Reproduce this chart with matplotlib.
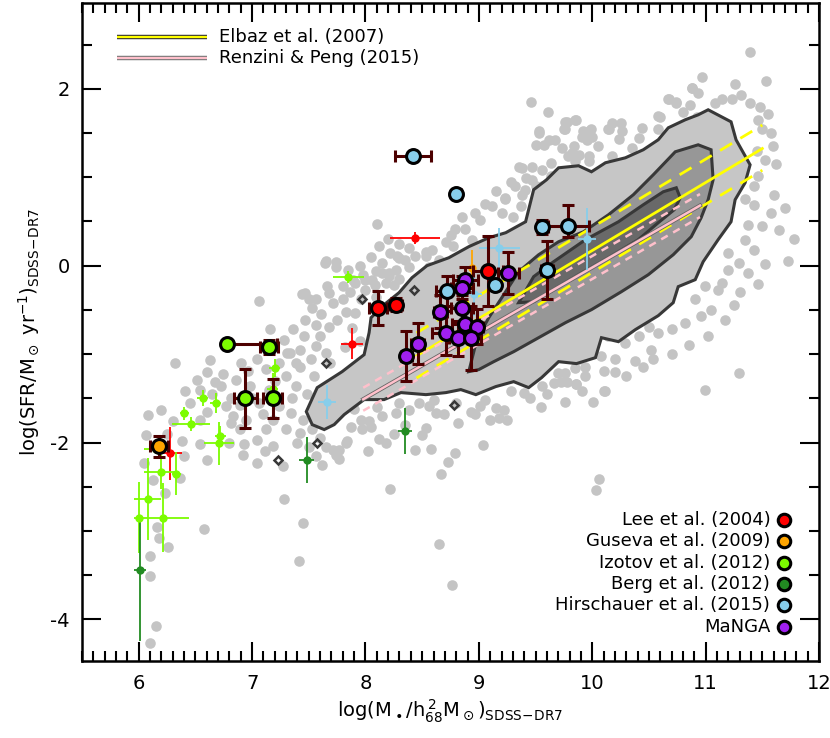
import numpy as np
import matplotlib
matplotlib.use("Agg")
import matplotlib.pyplot as plt
from matplotlib.patches import Polygon

plt.rcParams["font.family"] = ["DejaVu Sans"]
plt.rcParams["mathtext.fontset"] = "dejavusans"
plt.rcParams["axes.unicode_minus"] = False

# --- SDSS-DR7 galaxies outside the outer density contour (log M*, log SFR)
sdss_pts = np.array([
    # low-mass tail
    (6.32, -1.10), (6.625, -1.07), (6.51, -1.29), (6.67, -1.31), (6.74, -1.23), (6.73, -1.36),
    (6.41, -1.42), (6.20, -1.63), (6.08, -1.69), (6.30, -1.76), (6.54, -1.74), (6.815, -1.495),
    (6.77, -1.59), (6.83, -1.70), (6.89, -1.57), (6.06, -1.91), (6.05, -2.23), (6.13, -2.42),
    (6.23, -2.57), (6.36, -2.40), (6.54, -2.02), (6.38, -1.98), (6.93, -2.02), (6.92, -2.14),
    (7.04, -2.23), (7.11, -2.10), (7.27, -2.27), (7.28, -2.64), (7.45, -2.91), (7.41, -3.34),
    (6.575, -2.98), (6.16, -2.96), (6.18, -3.08), (6.26, -3.18), (6.10, -3.28), (6.10, -3.51),
    (6.15, -4.07), (6.10, -4.27),
    (7.04, -1.06), (7.12, -1.17), (7.24, -1.10), (7.33, -0.99), (7.42, -1.14), (7.30, -1.25),
    (7.39, -1.36), (6.98, -1.36), (7.06, -1.55), (7.24, -1.59), (7.34, -1.66), (7.45, -1.74),
    (7.18, -1.74), (7.30, -1.85), (7.42, -1.89), (7.53, -1.85), (7.18, -2.04), (7.12, -1.85),
    (7.04, -1.97), (7.56, -2.15), (7.71, -2.08), (7.83, -2.00), (7.77, -2.19), (6.89, -1.85),
    (6.815, -1.78), (6.96, -1.19), (6.86, -1.29), (6.54, -1.40),
    (7.60, -1.95), (7.50, -2.05), (7.40, -2.00), (7.65, -2.05), (7.62, -2.25),
    (6.45, -1.55), (6.60, -1.65), (6.25, -1.90), (6.40, -2.15), (6.60, -2.20), (6.80, -2.00),
    (6.95, -1.75), (7.00, -1.50), (6.65, -1.45), (6.90, -1.10), (6.60, -1.20), (7.15, -1.40),
    (7.20, -1.30), (7.10, -1.68), (7.35, -1.50), (7.48, -1.45), (7.55, -1.25),
    # left band above the contour
    (8.10, 0.47), (7.64, 0.03), (7.74, 0.04), (7.06, -0.40), (7.44, -0.32), (7.50, -0.38),
    (7.66, -0.23), (7.68, -0.31), (7.53, -0.48), (7.61, -0.55), (7.71, -0.42), (7.80, -0.38),
    (7.83, -0.52), (7.75, -0.61), (7.68, -0.69), (7.56, -0.67), (7.47, -0.61), (7.36, -0.72),
    (7.16, -0.72), (7.28, -0.84), (7.46, -0.80), (7.56, -0.91), (7.42, -0.95), (7.31, -0.99),
    (7.39, -1.10), (7.52, -1.06), (7.65, -0.99), (7.69, -1.10), (7.91, -0.20), (8.00, -0.27),
    (8.06, -0.16), (8.09, -0.35), (8.15, -0.08), (8.21, -0.12), (8.27, -0.045), (8.28, 0.11),
    (8.35, 0.07), (8.44, 0.11), (8.53, 0.16), (8.56, -0.01), (7.96, -0.38), (7.91, -0.53),
    (7.95, 0.00), (8.05, 0.10), (8.12, 0.22), (8.20, 0.30), (8.30, 0.25), (8.38, 0.20),
    (7.85, -0.05), (7.98, -0.10), (8.08, -0.22), (8.18, -0.20), (8.30, -0.15), (8.25, -0.22),
    (7.88, -0.70), (7.95, -0.85), (7.82, -0.92), (7.60, -0.80), (7.86, -0.30),
    # upper edge
    (9.23, 0.75), (8.97, 0.60), (9.01, 0.52), (9.12, 0.67), (8.79, 0.41), (8.75, 0.35),
    (8.88, 0.41), (8.71, 0.27), (8.77, 0.22), (8.94, 0.29), (8.59, 0.18), (8.53, 0.11),
    (8.65, 0.07), (7.65, 0.05), (7.74, -0.01), (7.47, -0.31), (7.56, -0.38), (8.15, 0.03),
    (8.22, 0.14), (8.30, 0.09), (8.38, -0.01), (8.09, -0.06), (8.00, -0.16), (8.21, -0.08),
    (7.89, -0.16), (7.80, -0.23), (9.47, 0.97), (9.32, 0.90), (9.41, 0.86), (9.56, 0.90),
    (9.64, 1.01), (9.82, 1.27), (9.76, 1.54), (9.91, 1.46), (9.99, 1.54), (10.05, 1.35),
    (10.17, 1.61), (9.53, 1.50), (9.62, 1.42), (9.35, 1.12),
    (9.05, 0.70), (9.15, 0.85), (9.28, 0.95), (9.20, 0.60), (9.30, 0.55), (8.85, 0.55),
    (9.46, 1.85), (9.61, 1.74), (9.78, 1.62), (9.86, 1.65), (9.53, 1.52), (9.75, 1.54),
    (9.92, 1.52), (9.95, 1.42), (9.67, 1.42), (9.50, 1.37), (9.57, 1.37), (9.73, 1.33),
    (9.84, 1.35), (9.88, 1.25), (9.79, 1.24), (9.97, 1.24), (10.15, 1.55), (10.25, 1.61),
    (10.24, 1.43), (10.41, 1.44), (10.44, 1.56), (10.58, 1.55), (10.60, 1.68), (10.68, 1.88),
    (10.74, 1.85), (10.80, 1.74), (10.86, 1.82), (10.88, 2.01), (10.92, 1.68), (10.35, 1.33),
    (10.17, 1.24), (9.47, 1.12), (9.56, 1.08), (9.64, 1.16), (9.70, 1.05), (9.38, 1.10),
    (9.42, 0.99), (9.38, 0.80), (9.23, 0.77), (9.37, 0.67), (9.50, 0.90), (9.85, 1.18),
    (9.97, 1.18),
    # high-mass end
    (11.39, 2.42), (10.97, 2.13), (10.88, 2.01), (10.93, 1.95), (11.26, 2.06), (11.53, 2.09),
    (11.31, 1.93), (11.14, 1.88), (11.23, 1.88), (11.08, 1.84), (11.39, 1.84), (11.48, 1.80),
    (11.55, 1.71), (11.46, 1.65), (11.58, 1.50), (11.59, 1.35), (11.52, 1.20), (11.46, 1.01),
    (11.43, 0.90), (11.58, 0.60), (11.43, 0.69), (11.37, 0.46), (11.35, 0.29), (11.43, 0.18),
    (11.37, -0.08), (11.46, -0.21), (11.29, 0.03), (11.20, 0.14), (11.14, -0.20), (11.11, -0.27),
    (10.99, -0.23), (10.96, -0.57), (11.17, -0.61), (11.02, -0.80), (10.91, -0.38), (10.82, -0.65),
    (10.70, -0.72), (10.58, -0.76), (10.50, -0.69), (10.52, -0.95), (10.38, -1.08), (10.08, -1.02),
    (9.94, -1.14), (10.67, 1.88), (10.74, 1.84), (10.58, 1.69), (10.26, 1.52), (10.14, 1.54),
    (9.97, 1.52), (9.85, 1.65), (9.76, 1.63), (10.00, 1.46), (9.995, -0.87), (10.14, -0.80),
    (10.29, -0.87), (10.41, -0.80), (10.20, -1.06), (9.88, -1.06),
    (11.70, 0.65), (11.78, 0.30), (11.73, 0.05), (11.65, 0.40),
    (11.35, 0.75), (11.50, 0.45), (11.60, 0.80), (11.30, -0.30), (11.25, -0.45), (11.05, -0.50),
    (11.20, -0.05), (11.52, 0.02), (11.62, 1.15), (11.45, 1.30), (11.50, 1.55),
    # below the contour
    (9.70, -1.21), (9.76, -1.21), (9.85, -1.16), (9.94, -1.25), (9.78, -1.31), (9.72, -1.31),
    (9.86, -1.34), (9.91, -1.42), (9.76, -1.54), (10.01, -1.54), (10.10, -1.42), (10.10, -1.19),
    (10.54, -1.06), (10.99, -1.40), (11.29, -1.21), (10.06, -2.41), (10.03, -2.54),
    (9.45, -1.50), (9.60, -1.45), (9.55, -1.60), (10.20, -1.20), (10.30, -1.25), (10.45, -1.15),
    (10.70, -1.00), (10.85, -0.90),
    (7.74, -2.14), (7.77, -2.08), (7.84, -1.98), (8.02, -2.10), (8.12, -1.96), (8.18, -2.00),
    (7.97, -1.85), (7.87, -1.82), (8.05, -1.82), (8.22, -2.52), (8.44, -2.08), (8.58, -2.07),
    (8.53, -1.83), (8.50, -1.91), (8.79, -2.12), (8.73, -2.22), (8.67, -2.35), (9.04, -2.03),
    (8.65, -3.15), (8.76, -3.61), (8.69, -1.68), (8.82, -1.78), (8.97, -1.68), (9.10, -1.74),
    (9.18, -1.72), (9.25, -1.74), (9.15, -1.61), (9.22, -1.63), (9.01, -1.59), (8.93, -1.65),
    (9.28, -1.42), (9.40, -1.44), (9.56, -1.36), (9.66, -1.33), (9.86, -1.34), (10.11, -1.42),
    (8.56, -1.59), (8.62, -1.66), (8.38, -1.63), (8.47, -1.55), (8.27, -1.66), (8.15, -1.70),
    (8.03, -1.76), (7.96, -1.74),
    (7.90, -1.62), (8.10, -1.60), (8.30, -1.55), (8.60, -1.52), (8.80, -1.55), (9.05, -1.52),
    (8.35, -1.80), (8.25, -1.90),
])

# --- density contours of the SDSS sample (outer, middle, inner)
contour_outer = np.array([
    (7.478, -1.650), (7.574, -1.379), (7.794, -1.198), (7.988, -1.006), (8.032, -0.757),
    (8.049, -0.588), (8.164, -0.441), (8.296, -0.305), (8.410, -0.136), (8.542, 0.0),
    (8.735, 0.090), (8.911, 0.215), (9.087, 0.316), (9.237, 0.373), (9.412, 0.497),
    (9.483, 0.859), (9.597, 0.972), (9.703, 1.107), (9.879, 1.130), (9.993, 1.062),
    (10.116, 1.164), (10.292, 1.220), (10.450, 1.311), (10.582, 1.424), (10.670, 1.559),
    (10.820, 1.650), (10.934, 1.706), (11.022, 1.763), (11.224, 1.627), (11.268, 1.424),
    (11.392, 1.141), (11.348, 0.938), (11.260, 0.746), (11.224, 0.497), (11.110, 0.294),
    (10.978, 0.045), (10.908, -0.158), (10.758, -0.237), (10.714, -0.418), (10.582, -0.565),
    (10.380, -0.723), (10.231, -0.859), (10.081, -0.814), (10.028, -1.040), (9.861, -1.107),
    (9.703, -1.085), (9.553, -1.266), (9.439, -1.379), (9.307, -1.311), (9.149, -1.367),
    (8.973, -1.458), (8.841, -1.401), (8.709, -1.435), (8.533, -1.458), (8.313, -1.435),
    (8.164, -1.514), (7.988, -1.514), (7.812, -1.684), (7.724, -1.797), (7.636, -1.853),
    (7.530, -1.797),
])
contour_mid = np.array([
    (8.911, -1.198), (8.982, -0.836), (9.087, -0.588), (9.219, -0.328), (9.351, -0.068),
    (9.527, 0.124), (9.703, 0.271), (9.923, 0.384), (10.143, 0.576), (10.362, 0.802),
    (10.538, 1.028), (10.732, 1.288), (10.934, 1.367), (11.048, 1.311), (11.066, 0.972),
    (11.022, 0.746), (10.960, 0.542), (10.873, 0.328), (10.714, 0.124), (10.494, -0.102),
    (10.257, -0.294), (9.993, -0.497), (9.764, -0.644), (9.527, -0.814), (9.307, -0.972),
    (9.131, -1.085), (8.999, -1.175),
])
contour_inner = np.array([
    (9.351, -0.418), (9.483, -0.124), (9.659, 0.045), (9.940, 0.294), (10.231, 0.497),
    (10.450, 0.689), (10.626, 0.836), (10.741, 0.881), (10.776, 0.768), (10.723, 0.633),
    (10.582, 0.486), (10.406, 0.294), (10.143, 0.090), (9.879, -0.102), (9.659, -0.271),
    (9.483, -0.407),
])
# small isolated contour islands
island_x = [7.65, 7.57, 7.23, 8.78, 8.43, 7.97]
island_y = [-1.10, -2.00, -2.20, -1.57, -0.27, -0.38]

# --- main-sequence relations (end points of the plotted segments)
elbaz_x = [8.45, 11.5]
elbaz_mid = [-1.02, 1.325]
elbaz_hi = [-0.76, 1.59]
elbaz_lo = [-1.27, 1.08]
rp_x = [7.98, 10.95]
rp_mid = [-1.51, 0.68]
rp_hi = [-1.38, 0.81]
rp_lo = [-1.64, 0.55]

# --- literature samples: small symbols = full sample, big = selected objects
lee_x = [8.44, 7.88, 6.28]
lee_y = [0.31, -0.88, -2.12]
lee_xerr = [0.22, 0.10, 0.10]
lee_yerr = [0.07, 0.18, 0.30]
lee_sel_x = [8.11, 8.27, 9.08]
lee_sel_y = [-0.48, -0.44, -0.06]
lee_sel_xerr = [0.08, 0.05, 0.13]
lee_sel_yerr = [0.19, 0.07, 0.40]

gus_x = [8.94]
gus_y = [-0.03]
gus_xerr = [0.0]
gus_yerr = [0.21]
gus_sel_x = [6.18]
gus_sel_y = [-2.04]
gus_sel_xerr = [0.08]
gus_sel_yerr = [0.12]

izo_x = [6.565, 6.68, 6.40, 6.46, 6.72, 6.71, 6.20, 6.33, 6.08, 6.21, 6.00, 6.15, 7.20, 7.18, 7.85]
izo_y = [-1.495, -1.55, -1.67, -1.79, -1.93, -2.01, -2.33, -2.35, -2.64, -2.85, -2.85, -2.07,
         -1.16, -1.39, -0.13]
izo_xerr = [0.05, 0.05, 0.04, 0.17, 0.05, 0.13, 0.15, 0.04, 0.12, 0.23, 0.04, 0.10, 0.05, 0.05, 0.14]
izo_yerr = [0.09, 0.11, 0.07, 0.08, 0.12, 0.24, 0.19, 0.24, 0.46, 0.39, 0.40, 0.05, 0.10, 0.18, 0.07]
izo_sel_x = [6.78, 7.15, 6.94, 7.18]
izo_sel_y = [-0.88, -0.92, -1.50, -1.50]
izo_sel_xerr_lo = [0.0, 0.08, 0.10, 0.08]
izo_sel_xerr_hi = [0.44, 0.08, 0.10, 0.08]
izo_sel_yerr = [0.0, 0.08, 0.33, 0.22]

berg_x = [7.48, 6.01, 8.35]
berg_y = [-2.20, -3.44, -1.87]
berg_xerr = [0.07, 0.05, 0.06]
berg_yerr_lo = [0.26, 0.80, 0.26]
berg_yerr_hi = [0.26, 0.57, 0.26]

hir_x = [9.18, 9.95, 8.96, 7.66]
hir_y = [0.20, 0.30, -0.32, -1.54]
hir_xerr = [0.18, 0.08, 0.07, 0.08]
hir_yerr = [0.23, 0.35, 0.25, 0.19]
hir_sel_x = [8.42, 8.80, 9.56, 9.79, 9.60, 9.14, 8.72]
hir_sel_y = [1.24, 0.81, 0.44, 0.45, -0.05, -0.22, -0.29]
hir_sel_xerr = [0.16, 0.04, 0.05, 0.18, 0.05, 0.04, 0.10]
hir_sel_yerr_lo = [0.0, 0.05, 0.08, 0.12, 0.33, 0.05, 0.17]
hir_sel_yerr_hi = [0.0, 0.05, 0.08, 0.24, 0.33, 0.05, 0.17]

manga_x = [9.26, 8.88, 8.85, 8.66, 8.85, 8.88, 8.98, 8.71, 8.82, 8.93, 8.46, 8.36]
manga_y = [-0.08, -0.16, -0.25, -0.52, -0.48, -0.66, -0.69, -0.76, -0.82, -0.82, -0.88, -1.02]
manga_xerr = [0.09, 0.11, 0.10, 0.06, 0.10, 0.12, 0.06, 0.12, 0.08, 0.09, 0.06, 0.05]
manga_yerr = [0.24, 0.14, 0.13, 0.19, 0.15, 0.15, 0.20, 0.25, 0.20, 0.36, 0.23, 0.28]

legend_labels = ["Lee et al. (2004)", "Guseva et al. (2009)", "Izotov et al. (2012)",
                 "Berg et al. (2012)", "Hirschauer et al. (2015)", "MaNGA"]
C_LEE, C_GUS, C_IZO, C_BERG, C_HIR, C_MANGA = "#ff0000", "#ffa500", "#7cfc00", "#228b22", "#87ceeb", "#a020f0"
legend_colors = [C_LEE, C_GUS, C_IZO, C_BERG, C_HIR, C_MANGA]
BROWN = "#4d0000"
EDGE = "#383838"

fig = plt.figure(figsize=(8.3, 7.38), dpi=100)
ax = fig.add_axes([0.0988, 0.1043, 0.8880, 0.8916])

# SDSS background
ax.scatter(sdss_pts[:, 0], sdss_pts[:, 1], s=58, color="#c4c4c4", lw=0, zorder=1)
for poly, fc in [(contour_outer, "#c6c6c6"), (contour_mid, "#979797"), (contour_inner, "#696969")]:
    ax.add_patch(Polygon(poly, closed=True, facecolor=fc, edgecolor=EDGE, lw=2.2, zorder=2))
ax.plot(island_x, island_y, ls="none", marker="D", ms=4.5, mfc="none", mec=EDGE, mew=1.8, zorder=2)

# relations
ax.plot(elbaz_x, elbaz_mid, color="yellow", lw=2.0, zorder=3)
for yy in (elbaz_hi, elbaz_lo):
    ax.plot(elbaz_x, yy, color="yellow", lw=2.0, dashes=(5, 3.5), zorder=3)
ax.plot(rp_x, rp_mid, color="#666666", lw=3.0, zorder=3)
ax.plot(rp_x, rp_mid, color="pink", lw=1.8, zorder=3)
for yy in (rp_hi, rp_lo):
    ax.plot(rp_x, yy, color="pink", lw=1.8, dashes=(3, 2.5), zorder=3)


def small(x, y, xerr, yerr, c):
    ax.errorbar(x, y, xerr=xerr, yerr=yerr, fmt="o", ms=6, mfc=c, mec=c, mew=0, ecolor=c,
                elinewidth=1.3, capsize=4, capthick=1.3, zorder=5)


def big(x, y, xerr, yerr, c):
    ax.errorbar(x, y, xerr=xerr, yerr=yerr, fmt="o", ms=10, mfc=c, mec="k", mew=2.2,
                ecolor=BROWN, elinewidth=2.2, capsize=4, capthick=2.2, zorder=6)


small(lee_x, lee_y, lee_xerr, lee_yerr, C_LEE)
big(lee_sel_x, lee_sel_y, lee_sel_xerr, lee_sel_yerr, C_LEE)
small(gus_x, gus_y, gus_xerr, gus_yerr, C_GUS)
big(gus_sel_x, gus_sel_y, gus_sel_xerr, gus_sel_yerr, C_GUS)
small(izo_x, izo_y, izo_xerr, izo_yerr, C_IZO)
big(izo_sel_x, izo_sel_y, [izo_sel_xerr_lo, izo_sel_xerr_hi], izo_sel_yerr, C_IZO)
small(berg_x, berg_y, berg_xerr, [berg_yerr_lo, berg_yerr_hi], C_BERG)
small(hir_x, hir_y, hir_xerr, hir_yerr, C_HIR)
big(hir_sel_x, hir_sel_y, hir_sel_xerr, [hir_sel_yerr_lo, hir_sel_yerr_hi], C_HIR)
big(manga_x, manga_y, manga_xerr, manga_yerr, C_MANGA)

# top-left legend for the relations
for yl, col, edge, lab in [(2.59, "yellow", "#333333", "Elbaz et al. (2007)"),
                           (2.35, "pink", "#777777", "Renzini & Peng (2015)")]:
    ax.plot([5.81, 6.60], [yl, yl], color=edge, lw=3.2, zorder=7, solid_capstyle="butt")
    ax.plot([5.81, 6.60], [yl, yl], color=col, lw=1.6, zorder=7, solid_capstyle="butt")
    ax.text(6.71, yl, lab, fontsize=13, va="center", ha="left", zorder=7)

# bottom-right legend for the samples
for i, (lab, col) in enumerate(zip(legend_labels, legend_colors)):
    yl = -2.87 - 0.243 * i
    ax.text(11.57, yl, lab, fontsize=13, va="center", ha="right", zorder=7)
    ax.plot([11.69], [yl], "o", ms=9, mfc=col, mec="k", mew=2.2, zorder=7)

ax.set_xlim(5.5, 12.0)
ax.set_ylim(-4.47, 2.97)
ax.set_xticks(range(6, 13))
ax.set_xticks(np.arange(5.5, 12.01, 0.1), minor=True)
ax.set_yticks([-4, -2, 0, 2])
ax.set_yticks(np.arange(-4.0, 2.99, 0.5), minor=True)
ax.tick_params(which="both", direction="in", top=True, right=True, labelsize=14, width=1.5)
ax.tick_params(which="major", length=14, pad=9)
ax.tick_params(which="minor", length=7)
for sp in ax.spines.values():
    sp.set_linewidth(1.8)

ax.set_xlabel(r"log(M$_\bullet$/h$_{68}^{\,2}$M$_\odot$)$_{\rm SDSS\!-\!DR7}$", fontsize=14, labelpad=4)
ax.set_ylabel(r"log(SFR/M$_\odot$ yr$^{-1}$)$_{\rm SDSS\!-\!DR7}$", fontsize=14, labelpad=6)

fig.savefig("out.png", dpi=100)
